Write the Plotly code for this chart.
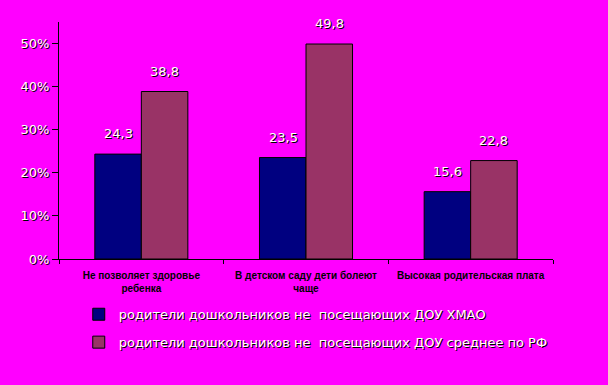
import plotly.graph_objects as go

categories = ["Не позволяет здоровье<br>ребенка", "В детском саду дети болеют<br>чаще", "Высокая родительская плата"]
hmao = [24.3, 23.5, 15.6]
rf = [38.8, 49.8, 22.8]
series_names = ["родители дошкольников не  посещающих ДОУ ХМАО",
                "родители дошкольников не  посещающих ДОУ среднее по РФ"]
tick_vals = [0, 0.1, 0.2, 0.3, 0.4, 0.5]
tick_text = ["0%", "10%", "20%", "30%", "40%", "50%"]

shadow = "1px 1px 0px #000000"
label_font = dict(family="DejaVu Sans", size=13, color="white", shadow=shadow)

fig = go.Figure()
for name, vals, color, grp in [(series_names[0], hmao, "#000080", "a"),
                               (series_names[1], rf, "#993366", "b")]:
    fig.add_trace(go.Bar(
        x=categories, y=[v / 100 for v in vals], name=name,
        marker=dict(color=color, line=dict(color="black", width=1)),
        legendgroup=grp,
    ))

# data labels above the bars
for vals, xs in [(hmao, -23), (rf, 23)]:
    for cat, v in zip(categories, vals):
        fig.add_annotation(x=cat, y=v / 100, xref="x", yref="y",
                           text=f"{v:.1f}".replace(".", ","), showarrow=False,
                           xshift=xs, yshift=11, yanchor="bottom",
                           font=label_font)

fig.update_layout(
    width=608, height=385,
    paper_bgcolor="#FF00FF", plot_bgcolor="#FF00FF",
    margin=dict(l=59, r=55, t=22, b=126),
    barmode="group", bargap=0.435, bargroupgap=0,
    showlegend=True,
    legend=dict(x=0.04, y=-0.17, xanchor="left", yanchor="top",
                bgcolor="rgba(0,0,0,0)",
                font=dict(family="DejaVu Sans", size=13, color="white", shadow=shadow),
                traceorder="grouped", tracegroupgap=8, itemwidth=30),
    xaxis=dict(showline=True, linecolor="black", linewidth=1,
               ticks="outside", tickson="boundaries", ticklen=4, tickcolor="black",
               ticklabelstandoff=7,
               tickfont=dict(family="Arial", size=10, color="black", weight="bold"),
               showgrid=False),
    yaxis=dict(range=[0, 0.549], tickvals=tick_vals, ticktext=tick_text,
               showline=True, linecolor="black", linewidth=1,
               ticks="outside", ticklen=6, tickcolor="black",
               tickfont=dict(family="DejaVu Sans", size=13, color="white", shadow=shadow),
               showgrid=False, zeroline=False),
)

fig.write_html("out.html", config={"displayModeBar": False},
               post_script="document.body.style.margin='0';document.body.style.background='#FF00FF';")
